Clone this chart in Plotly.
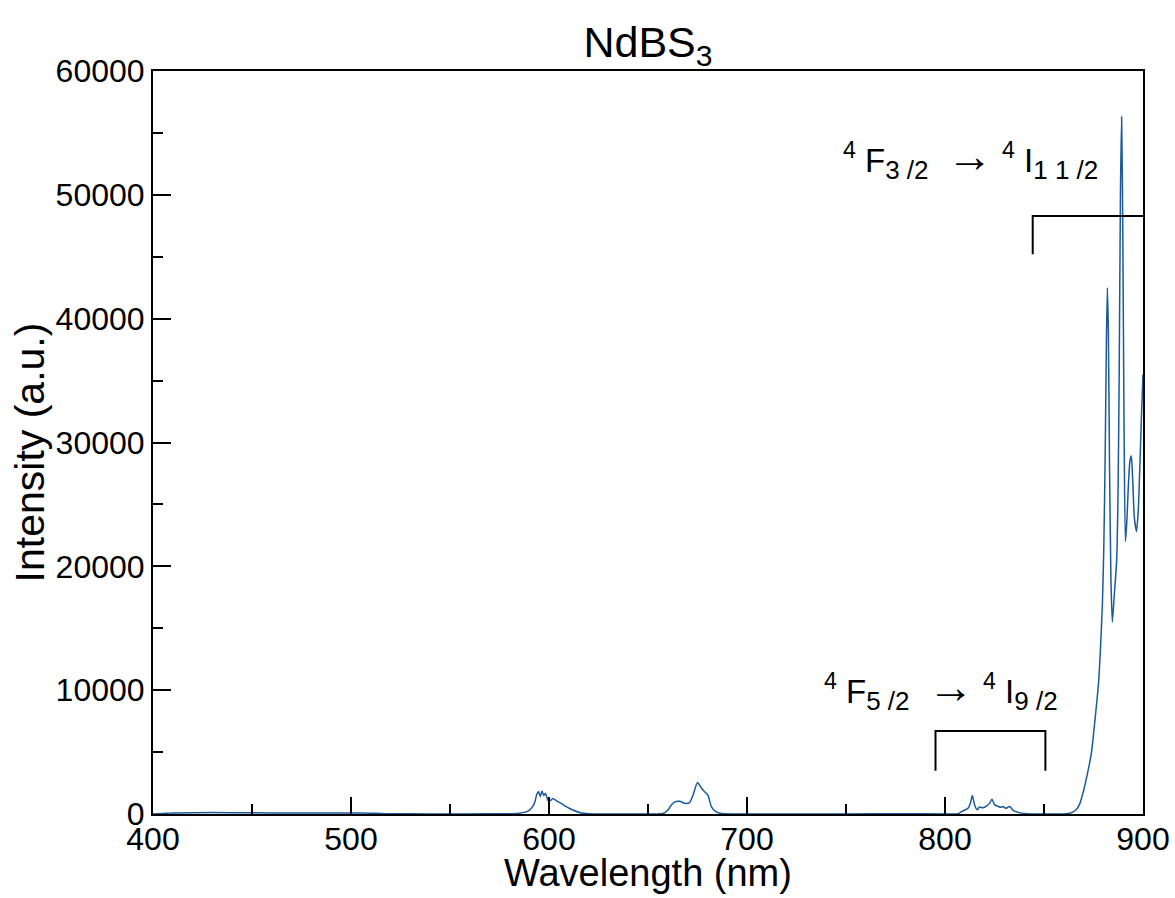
import plotly.graph_objects as go

wavelength = [400, 405, 410, 420, 440, 460, 480, 500, 510, 515, 520, 540, 560, 575, 580, 585, 588, 590, 592,
              592.8, 594.0, 594.8, 595.6, 596.5, 597.3, 598.2, 599.5, 600.7, 602.0, 603.7, 606.2, 608.7, 612,
              616.3, 620, 640, 655, 657.6, 660.1, 661.8, 663.5, 666, 668.5, 671, 672.7, 675, 677, 678.6, 680.3,
              682, 684.2, 687, 700, 750, 780, 800, 806.6, 808.3, 810, 811.6, 812.8, 813.8, 815, 816.2, 817.5,
              819.2, 820.9, 822.5, 823.7, 825.1, 826.7, 828.1, 829.3, 830.6, 832.7, 834.3, 836.9, 841.1, 850,
              860, 863, 866, 868, 870, 872, 874, 876, 877.5, 878.5, 879.5, 880.2, 880.9, 881.5, 882.0, 882.5,
              883.1, 883.8, 884.5, 885.2, 886.0, 886.7, 887.4, 888.0, 888.6, 889.2, 889.8, 890.4, 891.1, 891.8,
              892.6, 893.4, 894.1, 894.8, 895.6, 896.7, 897.6, 898.5, 899.3, 900]
intensity = [0, 40, 90, 110, 110, 90, 80, 90, 70, 40, 20, 10, 10, 20, 30, 70, 150, 300, 650,
             950, 1650, 1800, 1400, 1850, 1500, 1650, 1100, 1080, 1250, 1080, 850, 590, 320,
             80, 25, 5, 10, 40, 320, 730, 980, 1030, 860, 920, 1500, 2550, 2080, 1800, 1500,
             600, 190, 40, 5, 0, 30, 10, 20, 190, 320, 460, 850, 1500, 700, 340, 560,
             500, 630, 860, 1200, 740, 630, 540, 600, 460, 600, 320, 130, 30, 5,
             10, 60, 300, 800, 1900, 3300, 5000, 8000, 10500, 13300, 17000, 21500, 29000, 38000, 42500, 39000,
             28000, 19000, 15500, 17000, 18800, 20500, 26000, 36000, 50000, 56300, 47000, 32000, 22000, 23500,
             26500, 28500, 28900, 27000, 24000, 22800, 24500, 28500, 32500, 35500]

bracket_upper_x = [844.3, 844.3, 900]
bracket_upper_y = [45200, 48300, 48300]
bracket_lower_x = [795.2, 795.2, 850.7, 850.7]
bracket_lower_y = [3500, 6700, 6700, 3500]

NB = "\u00a0"
SUBSTYLE = "font-size:26px"
ARROW = f"<span style='font-size:46px'>\u2192</span>"
label_upper = (f"<sup>4</sup>{NB}F<sub><span style='{SUBSTYLE}'>3{NB}/2</span></sub>{NB}{NB}{ARROW}{NB}"
               f"<sup>4</sup>{NB}I<sub><span style='{SUBSTYLE}'>1{NB}1{NB}/2</span></sub>")
label_lower = (f"<sup>4</sup>{NB}F<sub><span style='{SUBSTYLE}'>5{NB}/2</span></sub>{NB}{NB}{ARROW}{NB}"
               f"<sup>4</sup>{NB}I<sub><span style='{SUBSTYLE}'>9{NB}/2</span></sub>")
label_upper_pos = (813.0, 53000)
label_lower_pos = (797.8, 10100)

x_ticks = [400, 500, 600, 700, 800, 900]
y_ticks = [0, 10000, 20000, 30000, 40000, 50000, 60000]

FONT = "Liberation Sans, Arial, Helvetica, sans-serif"

fig = go.Figure()
fig.add_trace(go.Scatter(x=wavelength, y=intensity, mode="lines",
                         line=dict(color="#1a5a9c", width=1.5, shape="spline", smoothing=0.6),
                         showlegend=False, hoverinfo="skip"))
fig.add_trace(go.Scatter(x=bracket_upper_x, y=bracket_upper_y, mode="lines",
                         line=dict(color="black", width=2), showlegend=False, cliponaxis=False))
fig.add_trace(go.Scatter(x=bracket_lower_x, y=bracket_lower_y, mode="lines",
                         line=dict(color="black", width=2), showlegend=False))

fig.add_annotation(x=label_upper_pos[0], y=label_upper_pos[1], text=label_upper, showarrow=False,
                   font=dict(family=FONT, size=33, color="black"), xanchor="center", yanchor="middle")
fig.add_annotation(x=label_lower_pos[0], y=label_lower_pos[1], text=label_lower, showarrow=False,
                   font=dict(family=FONT, size=33, color="black"), xanchor="center", yanchor="middle")
# axis titles as annotations (placed like the reference)
fig.add_annotation(xref="paper", yref="paper", x=-0.124, y=0.487, text="Intensity (a.u.)",
                   textangle=-90, showarrow=False, xanchor="center", yanchor="middle",
                   font=dict(family=FONT, size=41, color="black"))
fig.add_annotation(xref="paper", yref="paper", x=0.5, y=-0.080, text="Wavelength (nm)",
                   showarrow=False, xanchor="center", yanchor="middle",
                   font=dict(family=FONT, size=38, color="black"))

fig.update_layout(
    width=1175, height=898,
    margin=dict(l=153, r=32, t=71, b=84, autoexpand=False),
    paper_bgcolor="white", plot_bgcolor="white",
    font=dict(family=FONT, color="black"),
    title=dict(text="NdBS<sub>3</sub>", x=0.5, xanchor="center", xref="paper",
               y=0.953, yref="container", yanchor="middle",
               font=dict(family=FONT, size=43, color="black")),
)
fig.update_xaxes(range=[400, 900], tickvals=x_ticks, ticktext=[str(v) for v in x_ticks],
                 ticks="inside", ticklen=17, tickwidth=2, tickcolor="black",
                 minor=dict(ticks="inside", ticklen=10, tickwidth=2, tickcolor="black", dtick=50, tick0=400),
                 showline=True, linewidth=2, linecolor="black", mirror=True, showgrid=False, zeroline=False,
                 automargin=False, ticklabeloverflow="allow", ticklabelstandoff=-4,
                 tickfont=dict(family=FONT, size=32, color="black"))
fig.update_yaxes(range=[0, 60000], tickvals=y_ticks, ticktext=[str(v) for v in y_ticks],
                 ticks="inside", ticklen=18, tickwidth=2, tickcolor="black",
                 minor=dict(ticks="inside", ticklen=10, tickwidth=2, tickcolor="black", dtick=5000, tick0=0),
                 showline=True, linewidth=2, linecolor="black", mirror=True, showgrid=False, zeroline=False,
                 automargin=False, ticklabeloverflow="allow",
                 tickfont=dict(family=FONT, size=32, color="black"))

fig.write_html("out.html", config={"displayModeBar": False},
               post_script="document.body.style.margin='0px';")
